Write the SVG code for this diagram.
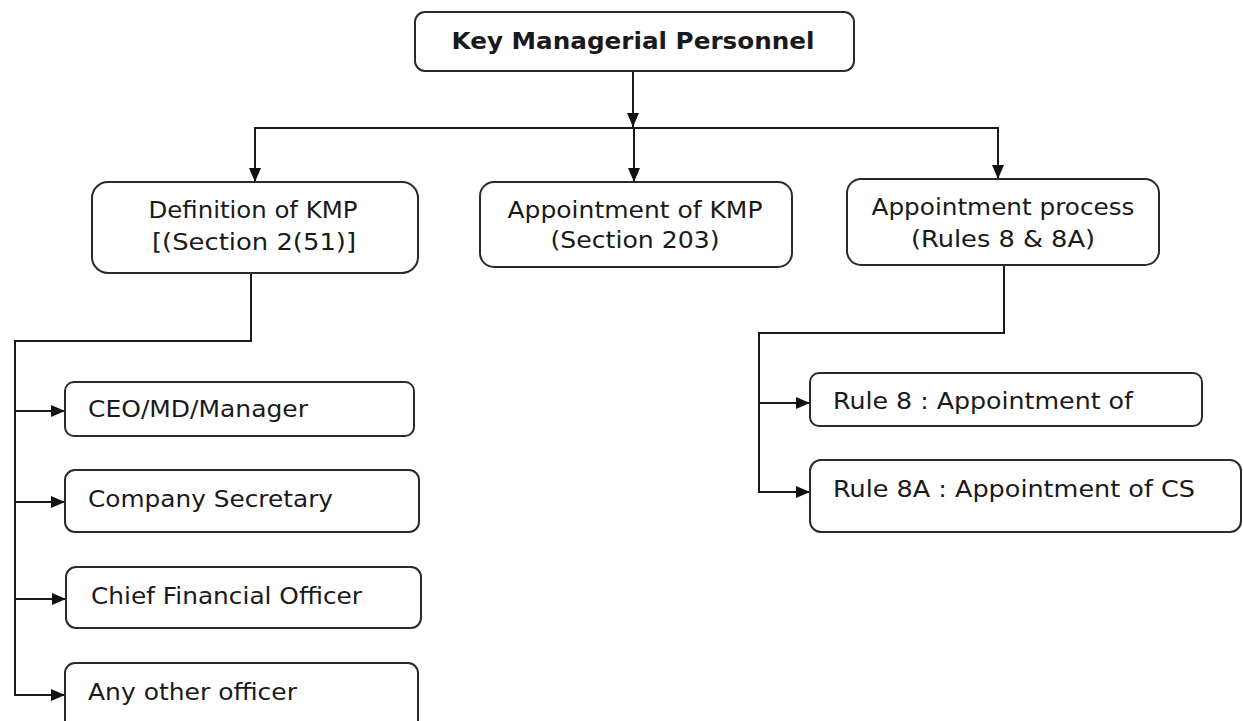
<svg xmlns="http://www.w3.org/2000/svg" width="1243" height="721" viewBox="0 0 1243 721">
  <style>
    .box { fill: #ffffff; stroke: #2a2a2a; stroke-width: 2; }
    .wire { fill: none; stroke: #1a1a1a; stroke-width: 2; }
    .lbl { font-family: "DejaVu Sans", Verdana, "Liberation Sans", sans-serif; font-size: 23px; fill: #1a1a1a; }
    .mid { text-anchor: middle; }
    .title { font-weight: bold; font-size: 23px; }
  </style>
  <defs>
    <marker id="arrow" viewBox="0 0 14 12" refX="14" refY="6" markerWidth="14" markerHeight="12" markerUnits="userSpaceOnUse" orient="auto">
      <path d="M0,0 L14,6 L0,12 Z" fill="#111111"/>
    </marker>
  </defs>

  <rect x="0" y="0" width="1243" height="721" fill="#ffffff"/>

  <!-- connectors -->
  <g id="connectors">
    <line class="wire" x1="633" y1="71" x2="633" y2="127" marker-end="url(#arrow)"/>
    <line class="wire" x1="254" y1="128" x2="999" y2="128"/>
    <line class="wire" x1="255" y1="128" x2="255" y2="182" marker-end="url(#arrow)"/>
    <line class="wire" x1="634" y1="128" x2="634" y2="182" marker-end="url(#arrow)"/>
    <line class="wire" x1="998" y1="128" x2="998" y2="179" marker-end="url(#arrow)"/>

    <polyline class="wire" points="251,273 251,341 15,341 15,695 65,695" marker-end="url(#arrow)"/>
    <line class="wire" x1="15" y1="411" x2="65" y2="411" marker-end="url(#arrow)"/>
    <line class="wire" x1="15" y1="502" x2="65" y2="502" marker-end="url(#arrow)"/>
    <line class="wire" x1="15" y1="599" x2="66" y2="599" marker-end="url(#arrow)"/>

    <polyline class="wire" points="1004,265 1004,333 759,333 759,492 810,492" marker-end="url(#arrow)"/>
    <line class="wire" x1="759" y1="403" x2="810" y2="403" marker-end="url(#arrow)"/>
  </g>

  <g id="kmp">
    <rect class="box" x="415" y="12" width="439" height="59" rx="10"/>
    <text class="lbl title mid" x="633" y="49" textLength="363" lengthAdjust="spacingAndGlyphs">Key Managerial Personnel</text>
  </g>

  <g id="definition">
    <rect class="box" x="92" y="182" width="326" height="91" rx="16"/>
    <text class="lbl mid" x="253" y="218" textLength="209" lengthAdjust="spacingAndGlyphs">Definition of KMP</text>
    <text class="lbl mid" x="254" y="250" textLength="204" lengthAdjust="spacingAndGlyphs">[(Section 2(51)]</text>
  </g>

  <g id="appointment">
    <rect class="box" x="480" y="182" width="312" height="85" rx="14"/>
    <text class="lbl mid" x="635" y="218" textLength="255" lengthAdjust="spacingAndGlyphs">Appointment of KMP</text>
    <text class="lbl mid" x="635" y="248" textLength="169" lengthAdjust="spacingAndGlyphs">(Section 203)</text>
  </g>

  <g id="process">
    <rect class="box" x="847" y="179" width="312" height="86" rx="14"/>
    <text class="lbl mid" x="1003" y="215" textLength="263" lengthAdjust="spacingAndGlyphs">Appointment process</text>
    <text class="lbl mid" x="1003" y="247" textLength="184" lengthAdjust="spacingAndGlyphs">(Rules 8 &amp; 8A)</text>
  </g>

  <g id="ceo">
    <rect class="box" x="65" y="382" width="349" height="54" rx="9"/>
    <text class="lbl" x="88" y="417" textLength="220" lengthAdjust="spacingAndGlyphs">CEO/MD/Manager</text>
  </g>

  <g id="cs">
    <rect class="box" x="65" y="470" width="354" height="62" rx="10"/>
    <text class="lbl" x="88" y="507" textLength="245" lengthAdjust="spacingAndGlyphs">Company Secretary</text>
  </g>

  <g id="cfo">
    <rect class="box" x="66" y="567" width="355" height="61" rx="10"/>
    <text class="lbl" x="91" y="604" textLength="271" lengthAdjust="spacingAndGlyphs">Chief Financial Officer</text>
  </g>

  <g id="other">
    <rect class="box" x="65" y="663" width="353" height="70" rx="10"/>
    <text class="lbl" x="88" y="700" textLength="209" lengthAdjust="spacingAndGlyphs">Any other officer</text>
  </g>

  <g id="rule8">
    <rect class="box" x="810" y="373" width="392" height="53" rx="9"/>
    <text class="lbl" x="833" y="409" textLength="300" lengthAdjust="spacingAndGlyphs">Rule 8 : Appointment of</text>
  </g>

  <g id="rule8a">
    <rect class="box" x="810" y="460" width="431" height="72" rx="11"/>
    <text class="lbl" x="833" y="497" textLength="362" lengthAdjust="spacingAndGlyphs">Rule 8A : Appointment of CS</text>
  </g>
</svg>
